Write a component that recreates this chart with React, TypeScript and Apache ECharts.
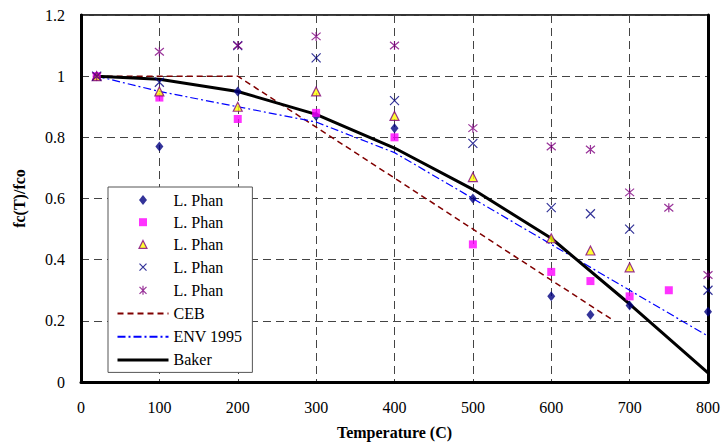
import React, { useEffect, useRef } from "react";
import * as echarts from "echarts";

// Test data (temperature in C, fc(T)/fco)
const phan1T = [20, 100, 200, 300, 400, 500, 600, 650, 700, 800];
const phan1V = [1.0, 0.77, 0.95, 0.87, 0.83, 0.6, 0.28, 0.22, 0.25, 0.23];
const phan2T = [20, 100, 200, 300, 400, 500, 600, 650, 700, 750];
const phan2V = [1.0, 0.93, 0.86, 0.88, 0.8, 0.45, 0.36, 0.33, 0.28, 0.3];
const phan3T = [20, 100, 200, 300, 400, 500, 600, 650, 700];
const phan3V = [1.0, 0.95, 0.9, 0.95, 0.87, 0.67, 0.47, 0.43, 0.375];
const phan4T = [20, 100, 200, 300, 400, 500, 600, 650, 700, 800];
const phan4V = [1.0, 0.98, 1.1, 1.06, 0.92, 0.78, 0.57, 0.55, 0.5, 0.3];
const phan5T = [20, 100, 200, 300, 400, 500, 600, 650, 700, 750, 800];
const phan5V = [1.0, 1.08, 1.1, 1.13, 1.1, 0.83, 0.77, 0.76, 0.62, 0.57, 0.35];

// Models
const cebT = [20, 200, 680];
const cebV = [1.0, 1.0, 0.2];
const envT = [20, 100, 200, 300, 400, 500, 600, 700, 800];
const envV = [1.0, 0.95, 0.9, 0.85, 0.75, 0.6, 0.45, 0.3, 0.15];
const bakerT = [20, 100, 200, 300, 400, 500, 600, 700, 800];
const bakerV = [1.0, 0.99, 0.95, 0.875, 0.765, 0.63, 0.47, 0.255, 0.03];

const xTicks = { min: 0, max: 800, interval: 100 };
const yTicks = { min: 0, max: 1.2, interval: 0.2 };

const zip = (t: number[], v: number[]) => t.map((x, i) => [x, v[i]]);

const FONT = "Liberation Serif";
const X_PATH = "path://M0,0L10,10M10,0L0,10";
const STAR_PATH = "path://M0,0L10,10M10,0L0,10M5,-1L5,11";

// legend icons drawn inside a 51x12 box (corner moveTos fix the box)
const BOX = "path://M0,0M51,12";
const LEG_DIAMOND = BOX + "M25.5,1L29.5,6L25.5,11L21.5,6Z";
const LEG_SQUARE = BOX + "M21.5,2L29.5,2L29.5,10L21.5,10Z";
const LEG_TRI = BOX + "M25.5,2L29.5,10L21.5,10Z";
const LEG_X = BOX + "M22,2.5L29,9.5M29,2.5L22,9.5";
const LEG_STAR = BOX + "M22,2.5L29,9.5M29,2.5L22,9.5M25.5,1.5L25.5,10.5";
const LEG_LINE = BOX + "M0,6L51,6";

export default function App() {
  const ref = useRef<HTMLDivElement>(null);
  useEffect(() => {
    if (!ref.current) return;
    const chart = echarts.init(ref.current, null, { renderer: "svg" });
    const gridLine = { show: true, lineStyle: { color: "#444", type: [8, 5], width: 1 } };
    const phanNames = ["L. Phan 1", "L. Phan 2", "L. Phan 3", "L. Phan 4", "L. Phan 5"];
    chart.setOption({
      animation: false,
      backgroundColor: "#fff",
      textStyle: { fontFamily: FONT },
      grid: {
        left: 81,
        right: 16,
        top: 15,
        bottom: 61,
        show: true,
        borderColor: "#333",
        borderWidth: 2,
      },
      legend: {
        orient: "vertical",
        left: 108,
        top: 187,
        padding: [5, 10, 4, 7],
        backgroundColor: "#fff",
        borderColor: "#555",
        borderWidth: 1,
        itemWidth: 51,
        itemHeight: 12,
        itemGap: 6.2,
        textStyle: { fontFamily: FONT, fontSize: 16, lineHeight: 16, color: "#000" },
        formatter: (n: string) => (n.startsWith("L. Phan") ? "L. Phan" : n),
        data: [
          { name: phanNames[0], icon: LEG_DIAMOND, itemStyle: { color: "#000080", borderWidth: 0 } },
          { name: phanNames[1], icon: LEG_SQUARE, itemStyle: { color: "#FF00FF", borderWidth: 0 } },
          {
            name: phanNames[2],
            icon: LEG_TRI,
            itemStyle: { color: "#FFFF00", borderColor: "#800080", borderWidth: 1.2 },
          },
          {
            name: phanNames[3],
            icon: LEG_X,
            itemStyle: { color: "none", borderColor: "#000080", borderWidth: 1.2 },
          },
          {
            name: phanNames[4],
            icon: LEG_STAR,
            itemStyle: { color: "none", borderColor: "#800080", borderWidth: 1.2 },
          },
          {
            name: "CEB",
            icon: LEG_LINE,
            itemStyle: { color: "none", borderColor: "#800000", borderWidth: 2, borderType: [6, 4] },
          },
          {
            name: "ENV 1995",
            icon: LEG_LINE,
            itemStyle: { color: "none", borderColor: "#0000FF", borderWidth: 2, borderType: [8, 3, 2, 3] },
          },
          {
            name: "Baker",
            icon: LEG_LINE,
            itemStyle: { color: "none", borderColor: "#000", borderWidth: 3, borderType: "solid" },
          },
        ],
      },
      xAxis: [
        {
          type: "value",
          ...xTicks,
          name: "Temperature (C)",
          nameLocation: "middle",
          nameGap: 42,
          nameTextStyle: { fontFamily: FONT, fontSize: 16, fontWeight: "bold", color: "#000" },
          axisLine: { show: true, onZero: false, lineStyle: { color: "#000", width: 3 } },
          axisTick: { show: false },
          axisLabel: { color: "#000", fontSize: 16, fontFamily: FONT, margin: 17 },
          splitLine: gridLine,
        },
      ],
      yAxis: [
        {
          type: "value",
          ...yTicks,
          name: "fc(T)/fco",
          nameLocation: "middle",
          nameGap: 54,
          nameTextStyle: { fontFamily: FONT, fontSize: 16, fontWeight: "bold", color: "#000" },
          axisLine: { show: true, onZero: false, lineStyle: { color: "#000", width: 3 } },
          axisTick: { show: false },
          axisLabel: { color: "#000", fontSize: 16, fontFamily: FONT, margin: 16 },
          splitLine: gridLine,
        },
        {
          type: "value",
          ...yTicks,
          position: "right",
          axisLine: { show: true, onZero: false, lineStyle: { color: "#000", width: 3 } },
          axisTick: { show: false },
          axisLabel: { show: false },
          splitLine: { show: false },
        },
      ],
      series: [
        {
          name: "CEB",
          type: "line",
          data: zip(cebT, cebV),
          symbol: "none",
          z: 2,
          itemStyle: { color: "#800000" },
          lineStyle: { color: "#800000", width: 1.5, type: [6, 4] },
        },
        {
          name: "ENV 1995",
          type: "line",
          data: zip(envT, envV),
          symbol: "none",
          z: 2,
          itemStyle: { color: "#0000FF" },
          lineStyle: { color: "#0000FF", width: 1.2, type: [8, 3, 2, 3] },
        },
        {
          name: "Baker",
          type: "line",
          data: zip(bakerT, bakerV),
          symbol: "none",
          z: 2,
          itemStyle: { color: "#000" },
          lineStyle: { color: "#000", width: 3 },
        },
        {
          name: phanNames[0],
          type: "scatter",
          data: zip(phan1T, phan1V),
          symbol: "diamond",
          symbolSize: [8, 10],
          z: 3,
          itemStyle: { color: "#000080" },
        },
        {
          name: phanNames[1],
          type: "scatter",
          data: zip(phan2T, phan2V),
          symbol: "rect",
          symbolSize: 8,
          z: 3,
          itemStyle: { color: "#FF00FF" },
        },
        {
          name: phanNames[2],
          type: "scatter",
          data: zip(phan3T, phan3V),
          symbol: "triangle",
          symbolSize: 9,
          z: 3,
          itemStyle: { color: "#FFFF00", borderColor: "#800080", borderWidth: 1.2 },
        },
        {
          name: phanNames[3],
          type: "scatter",
          data: zip(phan4T, phan4V),
          symbol: X_PATH,
          symbolSize: 9,
          z: 3,
          itemStyle: { color: "none", borderColor: "#000080", borderWidth: 1.2 },
        },
        {
          name: phanNames[4],
          type: "scatter",
          data: zip(phan5T, phan5V),
          symbol: STAR_PATH,
          symbolSize: 9,
          z: 3,
          itemStyle: { color: "none", borderColor: "#800080", borderWidth: 1.2 },
        },
      ],
    });
    return () => chart.dispose();
  }, []);
  return <div ref={ref} style={{ width: 724, height: 445, position: "absolute", left: 0, top: 0 }} />;
}
